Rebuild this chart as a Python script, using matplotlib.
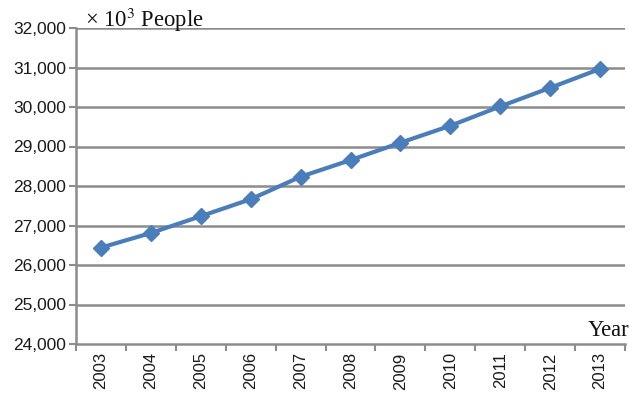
import matplotlib
matplotlib.use("Agg")
import matplotlib.pyplot as plt
from matplotlib.ticker import FuncFormatter, FixedLocator

years = [2003, 2004, 2005, 2006, 2007, 2008, 2009, 2010, 2011, 2012, 2013]
people = [26440, 26810, 27235, 27665, 28235, 28655, 29095, 29525, 30015, 30485, 30965]
year_labels = [str(y) for y in years]
y_ticks = [24000, 25000, 26000, 27000, 28000, 29000, 30000, 31000, 32000]

plt.rcParams['mathtext.fontset'] = 'stix'

fig = plt.figure(figsize=(6.29, 3.96), dpi=100)
ax = fig.add_axes([76/629, 1-344/396, (625-76)/629, (344-28)/396])

ax.plot(years, people, color='#4A7EBB', lw=3, marker='D', ms=8.5,
        markerfacecolor='#4A7EBB', markeredgecolor='#4A7EBB', zorder=3,
        clip_on=False)

ax.set_xlim(years[0]-0.5, years[-1]+0.5)
ax.set_ylim(y_ticks[0], y_ticks[-1])

grid_c = '#8C8C8C'
ax.set_yticks(y_ticks)
ax.yaxis.set_major_formatter(FuncFormatter(lambda v, p: f"{int(v):,}"))
for y in y_ticks[1:]:
    ax.axhline(y, color=grid_c, lw=1.8, zorder=1)

ax.xaxis.set_major_locator(FixedLocator([y - 0.5 for y in years] + [years[-1] + 0.5]))
ax.xaxis.set_minor_locator(FixedLocator(years))
ax.set_xticklabels([])
ax.set_xticklabels(year_labels, minor=True, rotation=90)
ax.tick_params(axis='x', which='major', length=5, width=1.5, color=grid_c, direction='out')
ax.tick_params(axis='x', which='minor', length=0, pad=6,
               labelsize=12, labelcolor='#1a1a1a')
ax.tick_params(axis='y', length=5, width=1.5, color=grid_c, direction='out',
               labelsize=12.5, labelcolor='#1a1a1a', pad=2)
for lab in ax.get_xticklabels(minor=True) + ax.get_yticklabels():
    lab.set_family('Liberation Sans')

for s in ['top', 'right']:
    ax.spines[s].set_visible(False)
for s in ['left', 'bottom']:
    ax.spines[s].set_color(grid_c)
    ax.spines[s].set_linewidth(1.8)

fig.text(85/629, 1-27/396, r"× 10$^{3}$ People", family='Liberation Serif',
         fontsize=16.3, ha='left', va='baseline', color='#111111')
fig.text(629/629, 1-336/396, "Year", family='Liberation Serif',
         fontsize=16.3, ha='right', va='baseline', color='#111111')

fig.savefig("out.png", dpi=100)
